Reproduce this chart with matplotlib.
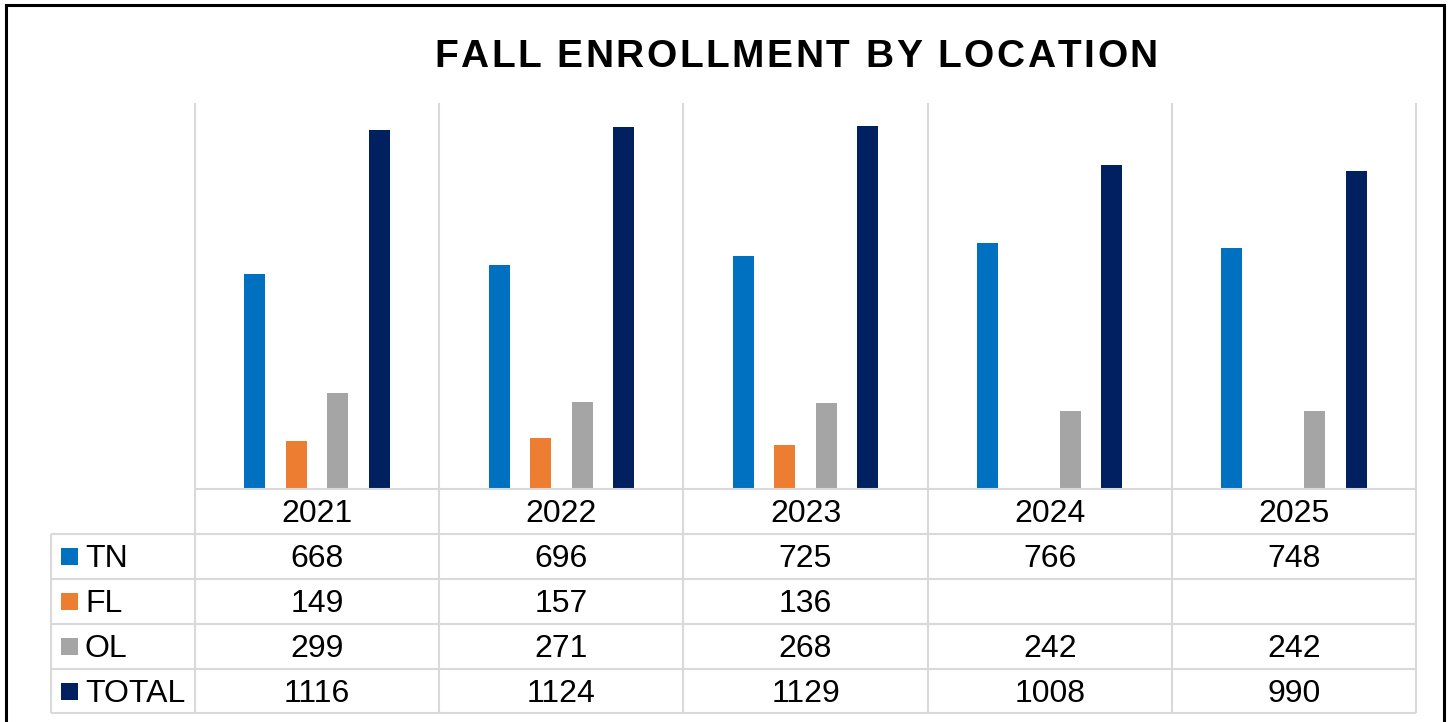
import matplotlib
matplotlib.use('Agg')
import matplotlib.pyplot as plt
import numpy as np
from matplotlib.lines import Line2D
from matplotlib.patches import Rectangle
from matplotlib.transforms import blended_transform_factory

years = ['2021', '2022', '2023', '2024', '2025']
series = ['TN', 'FL', 'OL', 'TOTAL']
tn = [668, 696, 725, 766, 748]
fl = [149, 157, 136, None, None]
ol = [299, 271, 268, 242, 242]
total = [1116, 1124, 1129, 1008, 990]
colors = ['#0070C0', '#ED7D31', '#A5A5A5', '#002060']
title = 'FALL ENROLLMENT BY LOCATION'

plt.rcParams['font.family'] = ['Liberation Sans', 'DejaVu Sans']

W, H = 1451, 722
fig = plt.figure(figsize=(W / 100, H / 100), dpi=100)
fig.patch.set_facecolor('white')


def fx(px):
    return px / W


def fy(py):
    return 1 - py / H


GRID = '#D9D9D9'
LW = 1.5

ax = fig.add_axes([fx(195), fy(489), fx(1416) - fx(195), fy(103) - fy(489)])
data = [tn, fl, ol, total]
x = np.arange(len(years))
step = 0.17
width = 0.086
for i, (vals, c) in enumerate(zip(data, colors)):
    v = np.array([np.nan if a is None else a for a in vals], dtype=float)
    ax.bar(x + (i - 1.5) * step, v, width=width, color=c, zorder=3)
ax.set_xlim(-0.5, len(years) - 0.5)
ax.set_ylim(0, 1200)
for s in ax.spines.values():
    s.set_visible(False)
ax.set_xticks([])
ax.set_yticks([])
ax.patch.set_alpha(0)

bt = blended_transform_factory(ax.transData, fig.transFigure)


def fline(xs, ys, trans=fig.transFigure):
    fig.add_artist(Line2D(xs, ys, transform=trans, color=GRID, lw=LW, zorder=1,
                          solid_capstyle='butt'))


row_tops = [489, 534, 579, 624, 669, 713]
for k in range(len(years) + 1):
    xb = k - 0.5
    fline([xb, xb], [fy(103), fy(713)], bt)
fline([fx(51), fx(51)], [fy(534), fy(713)])
fline([-0.5, len(years) - 0.5], [fy(489), fy(489)], bt)
for r in row_tops[1:]:
    fline([fx(51), fx(1416)], [fy(r), fy(r)])

FS = 23
for j, yr in enumerate(years):
    fig.text(j, fy(489 + 33), yr, transform=bt, ha='center', va='baseline',
             fontsize=FS, color='black')

for i, (name, vals, c) in enumerate(zip(series, data, colors)):
    top = row_tops[i + 1]
    base = top + 33
    fig.add_artist(Rectangle((fx(61), fy(top + 31)), fx(17), 17 / H,
                             transform=fig.transFigure, color=c, lw=0))
    fig.text(fx(85), fy(base), name, ha='left', va='baseline', fontsize=FS, color='black')
    for j, v in enumerate(vals):
        if v is None:
            continue
        fig.text(j, fy(base), str(v), transform=bt, ha='center', va='baseline',
                 fontsize=FS, color='black')

renderer = fig.canvas.get_renderer()
tfs = 28
widths = []
for ch in title:
    t = fig.text(0, 0, ch if ch != ' ' else 'n', fontsize=tfs, fontweight='bold')
    w = t.get_window_extent(renderer).width
    if ch == ' ':
        t2 = fig.text(0, 0, 'n n', fontsize=tfs, fontweight='bold')
        w = t2.get_window_extent(renderer).width - 2 * w
        t2.remove()
    widths.append(w)
    t.remove()
x0, x1 = 434, 1158
extra = ((x1 - x0) - sum(widths)) / (len(title) - 1)
cx = x0
for ch, w in zip(title, widths):
    if ch != ' ':
        fig.text(fx(cx), fy(67), ch, fontsize=tfs, fontweight='bold', ha='left',
                 va='baseline', color='black')
    cx += w + extra

fig.add_artist(Rectangle((fx(6), fy(740)), fx(1444) - fx(6), fy(5) - fy(740),
                         transform=fig.transFigure, fill=False, edgecolor='black',
                         lw=2.2, clip_on=False))

fig.savefig('out.png', dpi=100)
